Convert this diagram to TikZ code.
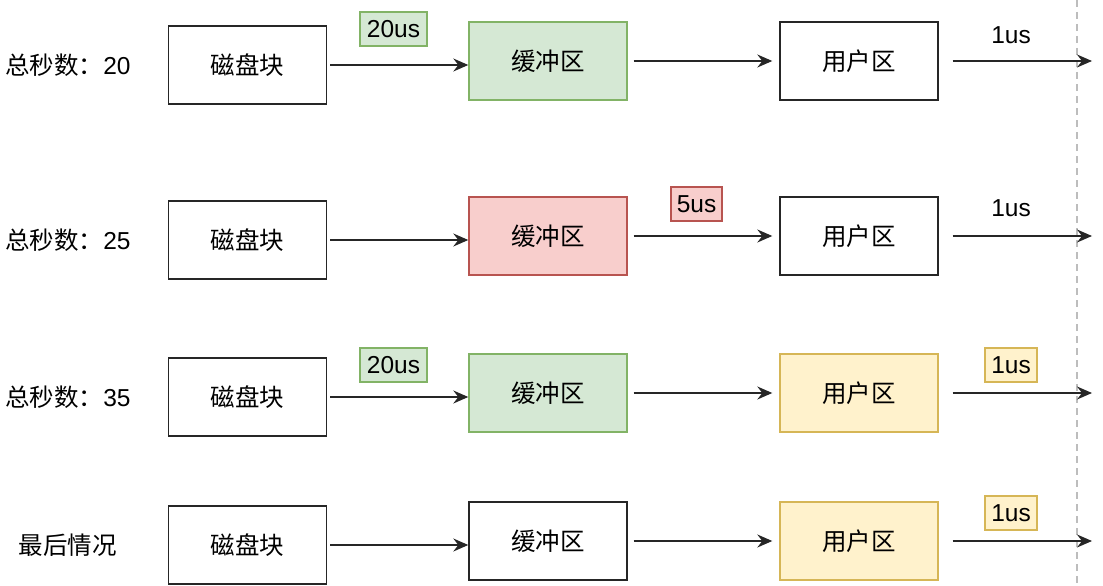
\documentclass[tikz,border=0pt]{standalone}
\usepackage{fontspec}
\setmainfont{Liberation Sans}
\newfontfamily\cjk{Noto Sans CJK SC}
\usetikzlibrary{arrows.meta}
\definecolor{gfill}{HTML}{D5E8D4}\definecolor{gline}{HTML}{82B366}
\definecolor{rfill}{HTML}{F8CECC}\definecolor{rline}{HTML}{B85450}
\definecolor{yfill}{HTML}{FFF2CC}\definecolor{yline}{HTML}{D6B656}
\definecolor{guide}{HTML}{BDBDBD}
\tikzset{
  txt/.style={font=\fontsize{24.5}{28}\selectfont, text=black, inner sep=0pt},
  blk/.style={txt, draw=black!85, line width=1.4pt, fill=white, minimum width=158pt, minimum height=78pt},
  green/.style={fill=gfill, draw=gline},
  red/.style={fill=rfill, draw=rline},
  yellow/.style={fill=yfill, draw=yline},
  tag/.style={txt, line width=1.4pt, minimum height=34pt},
  arr/.style={-{Stealth[length=15pt,width=13pt,inset=5pt]}, line width=1.4pt, black!85},
}
\begin{document}
\begin{tikzpicture}[x=1pt,y=-1pt]
\useasboundingbox (0,0) rectangle (1103,586);
% guide line on the right
\draw[guide, line width=1.4pt, dash pattern=on 7pt off 5pt] (1077,0) coordinate (g0) -- (1077,586) coordinate (g1);

% row labels
\node[txt] (l1) at (68,65) {{\cjk 总秒数：}20};
\node[txt] (l2) at (68,240) {{\cjk 总秒数：}25};
\node[txt] (l3) at (68,397) {{\cjk 总秒数：}35};
\node[txt] (l4) at (68,545) {\cjk 最后情况};

% blocks
\node[blk] (d1) at (247.5,65) {\cjk 磁盘块};
\node[blk,green] (b1) at (548,61) {\cjk 缓冲区};
\node[blk] (u1) at (859,61) {\cjk 用户区};

\node[blk] (d2) at (247.5,240) {\cjk 磁盘块};
\node[blk,red] (b2) at (548,236) {\cjk 缓冲区};
\node[blk] (u2) at (859,236) {\cjk 用户区};

\node[blk] (d3) at (247.5,397) {\cjk 磁盘块};
\node[blk,green] (b3) at (548,393) {\cjk 缓冲区};
\node[blk,yellow] (u3) at (859,393) {\cjk 用户区};

\node[blk] (d4) at (247.5,545) {\cjk 磁盘块};
\node[blk] (b4) at (548,541) {\cjk 缓冲区};
\node[blk,yellow] (u4) at (859,541) {\cjk 用户区};

% free ends of the output arrows
\coordinate (e1) at (1092,61);
\coordinate (e2) at (1092,236);
\coordinate (e3) at (1092,393);
\coordinate (e4) at (1092,541);

% arrows
\foreach \r in {1,2,3,4}{
  \draw[arr, shorten <=3pt] (d\r.east) -- (d\r.east -| b\r.west);
  \draw[arr, shorten <=6pt, shorten >=7pt] (b\r.east) -- (u\r.west);
  \draw[arr, shorten <=14pt] (u\r.east) -- (e\r);
}

% timing tags
\node[tag,green,minimum width=67pt] (t1) at (393.5,29) {20us};
\node[txt] (o1) at (1011,35) {1us};
\node[tag,red,minimum width=51pt] (t2) at (696.5,204) {5us};
\node[txt] (o2) at (1011,208) {1us};
\node[tag,green,minimum width=67pt] (t3) at (393.5,365) {20us};
\node[tag,yellow,minimum width=52pt] (o3) at (1011,365) {1us};
\node[tag,yellow,minimum width=52pt] (o4) at (1011,513) {1us};
\end{tikzpicture}
\end{document}
